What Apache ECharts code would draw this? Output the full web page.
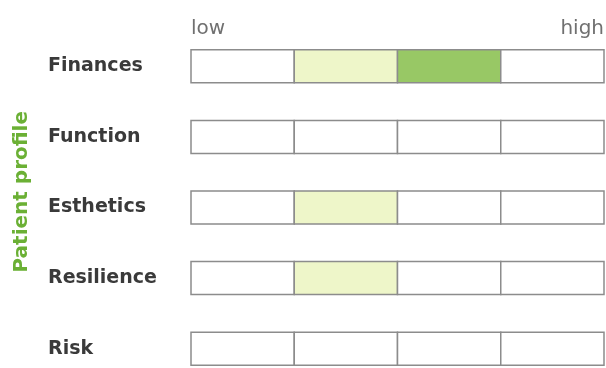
<!DOCTYPE html>
<html>
<head>
<meta charset="utf-8">
<script src="https://cdn.jsdelivr.net/npm/echarts@6/dist/echarts.min.js"></script>
<style>
  html, body { margin: 0; padding: 0; background: #fff; overflow: hidden; }
  /* the last row runs slightly off the photographed window */
  #chart { width: 607px; height: 384px; }
</style>
</head>
<body>
<div id="chart"></div>
<script>
// rows of the profile, top to bottom
const rows = ['Finances', 'Function', 'Esthetics', 'Resilience', 'Risk'];
// shade of each of the 4 cells per row: 0 = empty, 1 = light, 2 = dark
const finances = [0, 1, 2, 0];
const functionRow = [0, 0, 0, 0];
const esthetics = [0, 1, 0, 0];
const resilience = [0, 1, 0, 0];
const risk = [0, 0, 0, 0];
const scaleLabels = ['low', 'high'];
const shades = ['#ffffff', '#eef6c9', '#98c865'];

const rowLevels = [finances, functionRow, esthetics, resilience, risk];
let cells = [];
rowLevels.forEach(function (levels, r) {
    levels.forEach(function (lv, c) {
        cells.push([c, rows[r], lv]);
    });
});

const chart = echarts.init(document.getElementById('chart'));

chart.setOption({
    backgroundColor: '#fff',
    animation: false,
    grid: { left: 191, right: 0, top: 31, bottom: 0 },
    xAxis: {
        type: 'value',
        position: 'top',
        min: 0,
        max: 4,
        interval: 4,
        axisLine: { show: false },
        axisTick: { show: false },
        splitLine: { show: false },
        axisLabel: {
            margin: 2,
            verticalAlign: 'middle',
            color: '#707070',
            fontFamily: 'DejaVu Sans',
            fontSize: 20,
            alignMinLabel: 'left',
            alignMaxLabel: 'right',
            formatter: function (v) {
                return v === 0 ? scaleLabels[0] : scaleLabels[1];
            }
        }
    },
    yAxis: {
        type: 'category',
        data: rows,
        inverse: true,
        axisLine: { show: false },
        axisTick: { show: false },
        splitLine: { show: false },
        axisLabel: {
            align: 'left',
            margin: 143,
            color: '#3a3a3a',
            fontFamily: 'DejaVu Sans',
            fontWeight: 'bold',
            fontSize: 19
        }
    },
    graphic: [{
        type: 'text',
        left: 12,
        top: 111,
        rotation: Math.PI / 2,
        style: {
            text: 'Patient profile',
            fill: '#6bb035',
            font: 'bold 20px "DejaVu Sans"'
        }
    }],
    series: [{
        type: 'custom',
        data: cells,
        encode: { x: 0, y: 1 },
        renderItem: function (params, api) {
            const p = api.coord([api.value(0), api.value(1)]);
            const size = api.size([1, 1]);
            const h = 33;
            return {
                type: 'rect',
                shape: { x: p[0], y: p[1] - h / 2, width: size[0], height: h },
                style: {
                    fill: shades[api.value(2)],
                    stroke: '#8c8c8c',
                    lineWidth: 1.5
                }
            };
        }
    }]
});
</script>
</body>
</html>
